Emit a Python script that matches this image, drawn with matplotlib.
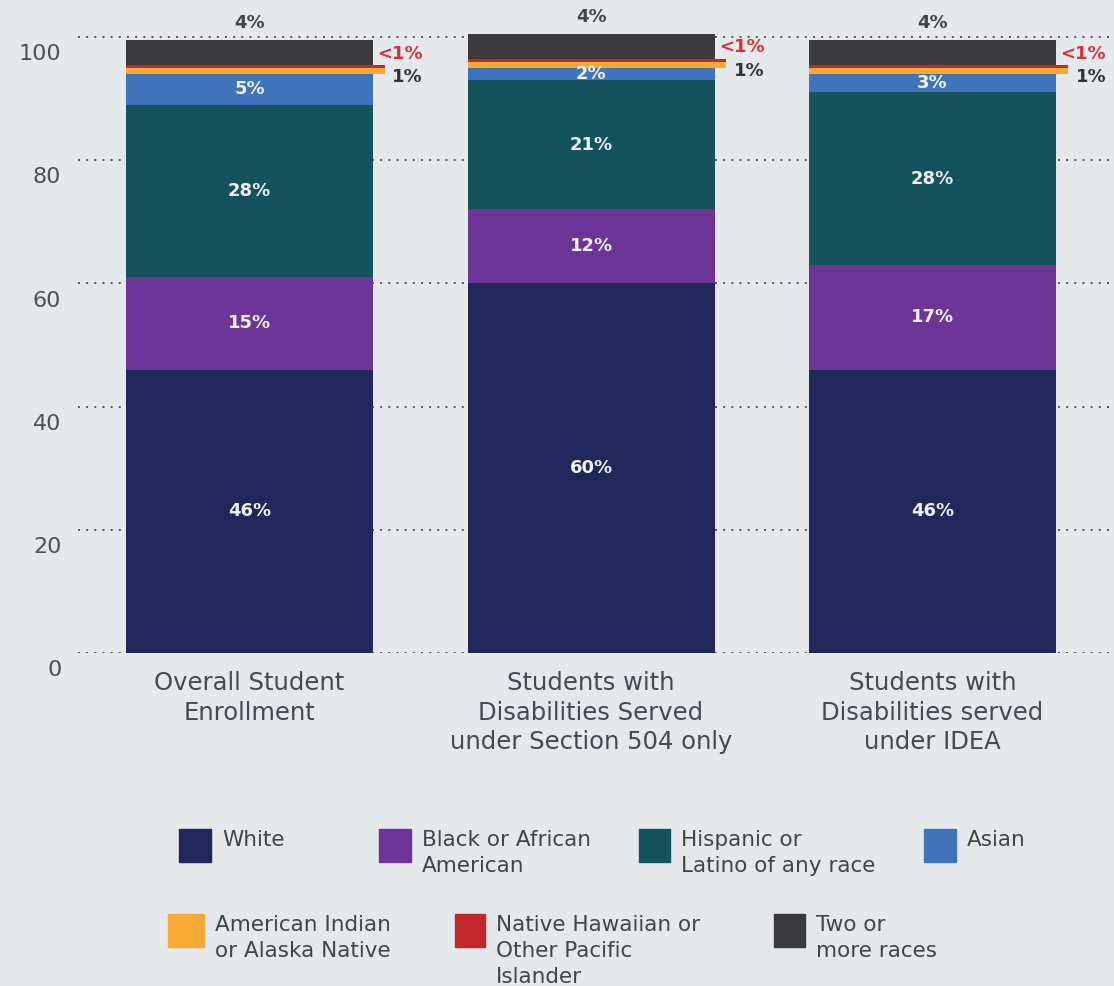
import matplotlib
matplotlib.use("Agg")
import matplotlib.pyplot as plt
from matplotlib.patches import Rectangle
from matplotlib.transforms import ScaledTranslation
import numpy as np

# Share of students by race/ethnicity (percent)
groups = [
    "Overall Student\nEnrollment",
    "Students with\nDisabilities Served\nunder Section 504 only",
    "Students with\nDisabilities served\nunder IDEA",
]
white = [46, 60, 46]
black = [15, 12, 17]
hispanic = [28, 21, 28]
asian = [5, 2, 3]
aian = [1, 1, 1]
nhpi = [0.5, 0.5, 0.5]   # reported as "<1%"
two_more = [4, 4, 4]

series_names = [
    "White", "Black or African\nAmerican", "Hispanic or\nLatino of any race", "Asian",
    "American Indian\nor Alaska Native", "Native Hawaiian or\nOther Pacific\nIslander",
    "Two or\nmore races",
]
colors = ["#20275a", "#6c3597", "#14525c", "#3f74bb", "#f6a933", "#c3262b", "#3b3b3d"]

BG = "#e6e9ec"
FONT = "DejaVu Sans"
W, H = 1114, 986
fig = plt.figure(figsize=(W / 100, H / 100), dpi=100, facecolor=BG)

ax_left, ax_right = 78, 1114
ax_top, ax_bot = 30, 653
ax = fig.add_axes([ax_left / W, 1 - ax_bot / H, (ax_right - ax_left) / W, (ax_bot - ax_top) / H])
ax.set_facecolor(BG)

x = np.arange(len(groups))
bw = 0.723
data = [white, black, hispanic, asian, aian, nhpi, two_more]
bottom = np.zeros(len(groups))
tops = []
for i, (vals, col) in enumerate(zip(data, colors)):
    vals = np.array(vals, dtype=float)
    if i in (4, 5):
        # thin slices stick out past the right edge of the bar
        ax.bar(x - bw / 2, vals, bw + 0.035, bottom=bottom, color=col, align="edge",
               zorder=3 if i == 4 else 4)
    else:
        ax.bar(x, vals, bw, bottom=bottom, color=col, zorder=2)
    tops.append(bottom + vals)
    bottom = bottom + vals

lab_font = dict(family=FONT, weight="bold", fontsize=13)
for i in range(4):
    vals = np.array(data[i])
    base = tops[i] - vals
    for xi, b, v in zip(x, base, vals):
        ax.text(xi, b + v / 2, f"{v:g}%", ha="center", va="center",
                color="#eef2f6", zorder=5, **lab_font)

for xi, t, v in zip(x, tops[6], two_more):
    ax.text(xi, t + 1.3, f"{v}%", ha="center", va="bottom", color="#444444",
            zorder=5, **lab_font)
for xi, lo, hi, v in zip(x, tops[3], tops[5], aian):
    ax.annotate("<1%", (xi + bw / 2, hi), xytext=(3, 8), textcoords="offset points",
                ha="left", va="center", color="#d0303f", annotation_clip=False, **lab_font)
    ax.annotate(f"{v}%", (xi + bw / 2, lo), xytext=(14, -2), textcoords="offset points",
                ha="left", va="center", color="#333333", annotation_clip=False, **lab_font)

ax.set_xlim(-0.502, 2.531)
ax.set_ylim(0, (ax_bot - ax_top) / 6.16)
ax.set_yticks(range(0, 101, 20))
ax.yaxis.grid(True, linestyle=(0, (1, 3.2)), color="#555555", linewidth=1.4, zorder=1)
ax.set_axisbelow(True)
for s in ax.spines.values():
    s.set_visible(False)
ax.tick_params(axis="y", length=0, pad=12, labelsize=16, labelcolor="#505050")
shift = ScaledTranslation(0, -11 / 72, fig.dpi_scale_trans)
for lbl in ax.get_yticklabels():
    lbl.set_family(FONT)
    lbl.set_transform(lbl.get_transform() + shift)
ax.set_xticks([])

for xi, g in zip(x, groups):
    ax.text(xi, -3.0, g, ha="center", va="top", fontsize=17.5, family=FONT,
            color="#444a52", linespacing=1.27)

# hand-placed legend, two rows
legend_pos = [(179, 829, 32), (379, 829, 32), (639, 829, 31), (924, 829, 32),
              (168, 914, 36), (455, 914, 30), (774, 914, 31)]
for (px, py, sw), name, col in zip(legend_pos, series_names, colors):
    fig.patches.append(Rectangle((px / W, 1 - (py + 33) / H), sw / W, 33 / H,
                                 transform=fig.transFigure, color=col))
    fig.text((px + sw + 11) / W, 1 - (py + 1) / H, name, ha="left", va="top",
             fontsize=15.5, family=FONT, color="#444444", linespacing=1.38)

fig.savefig("out.png", dpi=100, facecolor=BG)
